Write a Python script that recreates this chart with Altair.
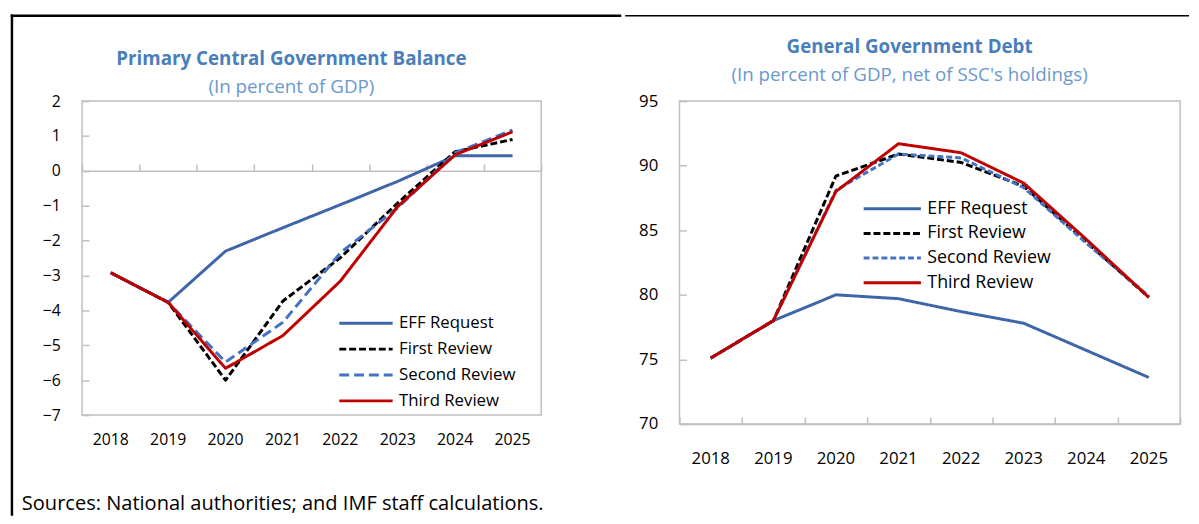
import altair as alt
import pandas as pd

YEARS = ["2018", "2019", "2020", "2021", "2022", "2023", "2024", "2025"]
SERIES = ["EFF Request", "First Review", "Second Review", "Third Review"]

# Primary central government balance (percent of GDP)
BAL_EFF = [-2.92, -3.77, -2.30, -1.63, -0.97, -0.30, 0.43, 0.43]
BAL_FIRST = [-2.92, -3.77, -6.00, -3.73, -2.49, -0.92, 0.55, 0.90]
BAL_SECOND = [-2.92, -3.77, -5.48, -4.34, -2.35, -1.06, 0.52, 1.17]
BAL_THIRD = [-2.92, -3.77, -5.66, -4.72, -3.16, -1.02, 0.46, 1.12]

# General government debt (percent of GDP)
DEBT_EFF = [75.1, 78.0, 80.0, 79.7, 78.7, 77.8, 75.7, 73.6]
DEBT_FIRST = [75.1, 78.0, 89.2, 90.9, 90.25, 88.4, 84.1, 79.8]
DEBT_SECOND = [75.1, 78.0, 88.1, 90.9, 90.6, 88.3, 84.0, 79.9]
DEBT_THIRD = [75.1, 78.0, 88.0, 91.7, 91.0, 88.65, 84.3, 79.8]

BAL_TICKS = [-7, -6, -5, -4, -3, -2, -1, 0, 1, 2]
DEBT_TICKS = [70, 75, 80, 85, 90, 95]

TITLE_L = "Primary Central Government Balance"
SUB_L = "(In percent of GDP)"
TITLE_R = "General Government Debt"
SUB_R = "(In percent of GDP, net of SSC's holdings)"
SOURCE = "Sources: National authorities; and IMF staff calculations."

COLORS = ["#3F65A9", "#000000", "#4472C4", "#C00000"]
DASH_L = [[1, 0], [7, 3], [10, 5], [1, 0]]
DASH_R = [[1, 0], [7, 3], [6, 3], [1, 0]]
WIDTH_L = [3, 3, 3.5, 3]
WIDTH_R = [3, 3, 2, 3]

FONT = "Open Sans"
GRAY = "#BFBFBF"
TITLE_COLOR = "#4A7EBB"
SUB_COLOR = "#6B98CF"


def long_df(series_lists):
    rows = []
    for name, vals in zip(SERIES, series_lists):
        for y, v in zip(YEARS, vals):
            rows.append({"year": y, "series": name, "value": v})
    return pd.DataFrame(rows)


df_bal = long_df([BAL_EFF, BAL_FIRST, BAL_SECOND, BAL_THIRD])
df_debt = long_df([DEBT_EFF, DEBT_FIRST, DEBT_SECOND, DEBT_THIRD])

W1, H1 = 465, 318
W2, H2 = 507, 327

xscale = alt.Scale(type="band", domain=YEARS, paddingInner=0, paddingOuter=0)


def panel(df, W, ydomain, yticks, widths, dashes, legend_x, legend_y, sym, row_pad, leg_font,
          label_pad_x, font_size, top_offset):
    ysc = alt.Scale(domain=ydomain, nice=False, zero=False)
    legend = alt.Legend(orient="none", legendX=legend_x, legendY=legend_y, title=None,
                        symbolType="stroke", symbolSize=sym * sym, labelFontSize=leg_font,
                        labelFont=FONT, labelColor="black", rowPadding=row_pad,
                        clipHeight=20, labelOffset=5, padding=0)
    lines = alt.Chart(df).mark_line(strokeJoin="round").encode(
        x=alt.X("year:O", scale=xscale,
                axis=alt.Axis(orient="bottom", ticks=False, domain=False, labelAngle=0,
                              labelPadding=label_pad_x, labelFontSize=font_size,
                              labelFont=FONT, labelColor="black", title=None)),
        y=alt.Y("value:Q", scale=ysc,
                axis=alt.Axis(orient="left", ticks=False, domain=False, values=yticks,
                              labelPadding=22, labelFontSize=font_size, labelFont=FONT,
                              labelColor="black", title=None)),
        color=alt.Color("series:N", scale=alt.Scale(domain=SERIES, range=COLORS), legend=legend,
                        sort=SERIES),
        strokeDash=alt.StrokeDash("series:N", scale=alt.Scale(domain=SERIES, range=dashes),
                                  legend=legend, sort=SERIES),
        strokeWidth=alt.StrokeWidth("series:N", scale=alt.Scale(domain=SERIES, range=widths),
                                    legend=legend, sort=SERIES),
    )
    ticks = alt.Chart(df).mark_line(opacity=0).encode(
        x=alt.X("year:O", scale=xscale,
                axis=alt.Axis(orient="top", offset=top_offset, labels=False, ticks=True,
                              tickSize=7, tickBand="extent", domain=True, domainColor=GRAY,
                              domainWidth=1.5, tickColor=GRAY, tickWidth=1.5, title=None)),
        y=alt.Y("value:Q", scale=ysc,
                axis=alt.Axis(orient="right", offset=-W, labels=False, ticks=True,
                              tickSize=7, domain=False, values=yticks, tickColor=GRAY,
                              tickWidth=1.5, title=None)),
    )
    return lines, ticks


lines_l, ticks_l = panel(df_bal, W1, [-7, 2], BAL_TICKS, WIDTH_L, DASH_L, 259, 215, 54, 6.2,
                         17, 17, 16, -H1 * 2 / 9)
lines_r, ticks_r = panel(df_debt, W2, [70, 95], DEBT_TICKS, WIDTH_R, DASH_R, 185, 99, 58, 5,
                         18, 27, 17, -H2)


def text_layer(txt, x, y, size, color, weight="normal", align="center"):
    return alt.Chart(pd.DataFrame({"t": [txt]})).mark_text(
        align=align, baseline="alphabetic", fontSize=size, font=FONT, color=color,
        fontWeight=weight).encode(text="t:N", x=alt.value(x), y=alt.value(y))


one = pd.DataFrame({"t": [0]})
frame_l_v = alt.Chart(one).mark_rule(color="black", strokeWidth=2.5).encode(
    x=alt.value(-71), y=alt.value(-87.75), y2=alt.value(420))
frame_l_top = alt.Chart(one).mark_rule(color="black", strokeWidth=2.5).encode(
    x=alt.value(-72.25), x2=alt.value(546), y=alt.value(-86.5))
frame_r_top = alt.Chart(one).mark_rule(color="black", strokeWidth=1.5).encode(
    x=alt.value(-55), x2=alt.value(516), y=alt.value(-86.5))

title_l = text_layer(TITLE_L, 212, -37, 19, TITLE_COLOR, "bold")
sub_l = text_layer(SUB_L, 212, -8, 19, SUB_COLOR)
title_r = text_layer(TITLE_R, 233, -49, 19, TITLE_COLOR, "bold")
sub_r = text_layer(SUB_R, 233, -20, 19, SUB_COLOR)
source = text_layer(SOURCE, -61, 414, 20.3, "black", align="left")

left = alt.layer(frame_l_v, frame_l_top, ticks_l, lines_l, title_l, sub_l, source).resolve_axis(
    x="independent", y="independent").properties(width=W1, height=H1)

right = alt.layer(frame_r_top, ticks_r, lines_r, title_r, sub_r).resolve_axis(
    x="independent", y="independent").properties(width=W2, height=H2)

chart = alt.hconcat(left, right, spacing=0).resolve_scale(
    color="independent", strokeDash="independent", strokeWidth="independent"
).properties(
    padding={"left": 0, "top": 1, "right": 0, "bottom": 0}, background="white"
).configure_view(stroke=GRAY, strokeWidth=1.5).configure_axis(grid=False)

chart.save("out.html", embed_options={"renderer": "svg", "actions": False})
